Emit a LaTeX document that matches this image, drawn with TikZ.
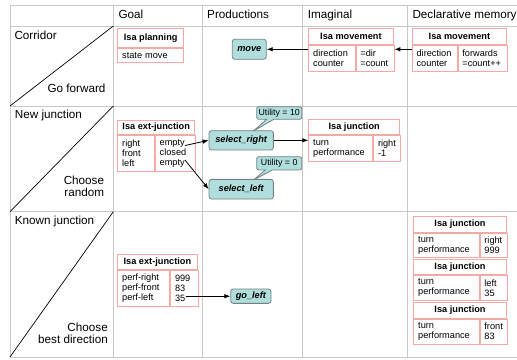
\documentclass[tikz,border=0pt]{standalone}
\usepackage{fontspec}
\setmainfont{Liberation Sans}
\usetikzlibrary{arrows.meta,shapes.callouts}
\definecolor{gridc}{RGB}{200,200,200}
\definecolor{boxr}{RGB}{244,170,164}
\definecolor{prodf}{RGB}{176,222,221}
\definecolor{prodd}{RGB}{118,128,130}
\newcommand\hdf{\fontsize{11.7}{12}\selectfont}
\newcommand\bxf{\fontsize{9.2}{10}\selectfont}
\begin{document}
\begin{tikzpicture}[x=1pt,y=-1pt,
 grid/.style={draw=gridc, line width=0.8pt},
 diag/.style={draw=black, line width=0.7pt},
 hdr/.style={font=\hdf, inner sep=0pt, anchor=base west},
 lbl/.style={font=\hdf, inner sep=0pt},
 ttl/.style={draw=boxr, line width=0.8pt, font=\bxf\bfseries, inner sep=0pt, anchor=north west},
 cell/.style={draw=boxr, line width=0.8pt, font=\bxf, inner xsep=4.5pt, inner ysep=0pt, align=left, anchor=north west},
 prod/.style={draw=prodd, fill=prodf, line width=0.8pt, rounded corners=2.5pt, font=\bxf\bfseries\itshape, inner sep=0pt},
 util/.style={rectangle callout, draw=prodd, fill=prodf, line width=0.8pt, rounded corners=2pt, font=\fontsize{8.8}{10}\selectfont, inner sep=0pt},
 arr/.style={-{Latex[length=6pt,width=4.5pt]}, line width=0.8pt, draw=black}
]
\useasboundingbox (0,0) rectangle (517,359);
% grid
\draw[grid] (10,5) -- (517,5);
\draw[grid] (10,26) -- (517,26);
\draw[grid] (10,106) -- (517,106);
\draw[grid] (10,211.7) -- (517,211.7);
\draw[grid] (10,357) -- (517,357);
\draw[grid] (10,5) -- (10,357);
\draw[grid] (113.3,5) -- (113.3,357);
\draw[grid] (202.7,5) -- (202.7,357);
\draw[grid] (302.3,5) -- (302.3,357);
\draw[grid] (407.3,5) -- (407.3,357);
% diagonals
\draw[diag] (10,106) -- (113.3,26);
\draw[diag] (10,211.7) -- (113.3,106);
\draw[diag] (10,357) -- (113.3,211.7);
% headers
\node[hdr] (hgoal) at (118.3,18.3) {Goal};
\node[hdr] (hprod) at (207,18.3) {Productions};
\node[hdr] (himag) at (307.7,18.3) {Imaginal};
\node[hdr] (hdecl) at (412.3,18.3) {Declarative memory};
% row labels
\node[hdr] (rcor) at (14.3,39.3) {Corridor};
\node[lbl, anchor=base east] (rgof) at (105.7,92) {Go forward};
\node[hdr] (rnew) at (14.7,118.3) {New junction};
\node[lbl, anchor=base east, align=right] (rchr) at (104.3,196.7) {Choose\\random};
\node[hdr] (rknown) at (14.7,224) {Known junction};
\node[lbl, anchor=base east, align=right] (rchb) at (108,343.3) {Choose\\best direction};
% goal1
\node[ttl, minimum width=66pt, minimum height=18.4pt] (g1T) at (117.3,28.3) {Isa planning};
\node[cell, text width=57pt, minimum height=14.6pt] (g1C) at (g1T.south west) {state move};
% imag1
\node[ttl, minimum width=84.4pt, minimum height=15.7pt] (i1T) at (308.3,28.3) {Isa movement};
\node[cell, text width=37.4pt, minimum height=25.7pt] (i1L) at (i1T.south west) {direction\\counter};
\node[cell, text width=29pt, minimum height=25.7pt] (i1R) at (i1L.north east) {=dir\\=count};
% decl1
\node[ttl, minimum width=94.6pt, minimum height=15.7pt] (d1T) at (411.7,28.3) {Isa movement};
\node[cell, text width=36pt, minimum height=25.7pt] (d1L) at (d1T.south west) {direction\\counter};
\node[cell, text width=40.6pt, minimum height=25.7pt] (d1R) at (d1L.north east) {forwards\\=count++};
% goal2
\node[ttl, minimum width=77pt, minimum height=13.7pt] (g2T) at (117.3,120) {Isa ext-junction};
\node[cell, text width=27.7pt, minimum height=36.6pt] (g2L) at (g2T.south west) {right\\front\\left};
\node[cell, text width=31.3pt, minimum height=36.6pt] (g2R) at (g2L.north east) {empty\\closed\\empty};
% imag2
\node[ttl, minimum width=91pt, minimum height=15pt] (i2T) at (308.3,119.3) {Isa junction};
\node[cell, text width=55pt, minimum height=26pt] (i2L) at (i2T.south west) {turn\\performance};
\node[cell, text width=18pt, minimum height=26pt] (i2R) at (i2L.north east) {right\\-1};
% goal3
\node[ttl, minimum width=79.4pt, minimum height=15.3pt] (g3T) at (117.3,254) {Isa ext-junction};
\node[cell, text width=43pt, minimum height=36pt] (g3L) at (g3T.south west) {perf-right\\perf-front\\perf-left};
\node[cell, text width=18.4pt, minimum height=36pt] (g3R) at (g3L.north east) {999\\83\\35};
% decl3
\node[ttl, minimum width=92.7pt, minimum height=16.3pt] (d3aT) at (413.3,215.7) {Isa junction};
\node[cell, text width=56.4pt, minimum height=24pt] (d3aL) at (d3aT.south west) {turn\\performance};
\node[cell, text width=18.3pt, minimum height=24pt] (d3aR) at (d3aL.north east) {right\\999};
\node[ttl, minimum width=92.7pt, minimum height=15.3pt] (d3bT) at (413.3,258.7) {Isa junction};
\node[cell, text width=56.4pt, minimum height=25.3pt] (d3bL) at (d3bT.south west) {turn\\performance};
\node[cell, text width=18.3pt, minimum height=25.3pt] (d3bR) at (d3bL.north east) {left\\35};
\node[ttl, minimum width=92.7pt, minimum height=15.4pt] (d3cT) at (413.3,302.3) {Isa junction};
\node[cell, text width=56.4pt, minimum height=25.6pt] (d3cL) at (d3cT.south west) {turn\\performance};
\node[cell, text width=18.3pt, minimum height=25.6pt] (d3cR) at (d3cL.north east) {front\\83};
% productions
\node[prod, minimum width=34pt, minimum height=20pt] (move) at (249.3,49.3) {move};
\node[prod, minimum width=64.3pt, minimum height=19.3pt] (selr) at (241.2,140.3) {select\_right};
\node[prod, minimum width=64.3pt, minimum height=19.7pt] (sell) at (241.2,189.2) {select\_left};
\node[prod, minimum width=40.3pt, minimum height=14.3pt] (gol) at (250.9,296.2) {go\_left};
% utility callouts
\coordinate (p10) at (253.5,131);
\node[util, minimum width=45pt, minimum height=12.6pt, callout absolute pointer={(p10)}] (u10) at (279.2,113) {Utility = 10};
\coordinate (p0) at (253.5,180);
\node[util, minimum width=45pt, minimum height=13.3pt, callout absolute pointer={(p0)}] (u0) at (279.2,163.3) {Utility = 0};
% arrows
\coordinate (e1) at (185,145.5);
\coordinate (e3) at (185,160);
\coordinate (e35) at (185.5,296.2);
\draw[arr] (i1L.west |- move.east) -- (move.east);
\draw[arr] (d1L.west |- move.east) -- (i1R.east |- move.east);
\draw[arr] (e1) -- (selr.west);
\draw[arr] (e3) -- (sell.west);
\draw[arr] (selr.east) -- (i2L.west |- selr.east);
\draw[arr] (e35) -- (gol.west);
\end{tikzpicture}
\end{document}
